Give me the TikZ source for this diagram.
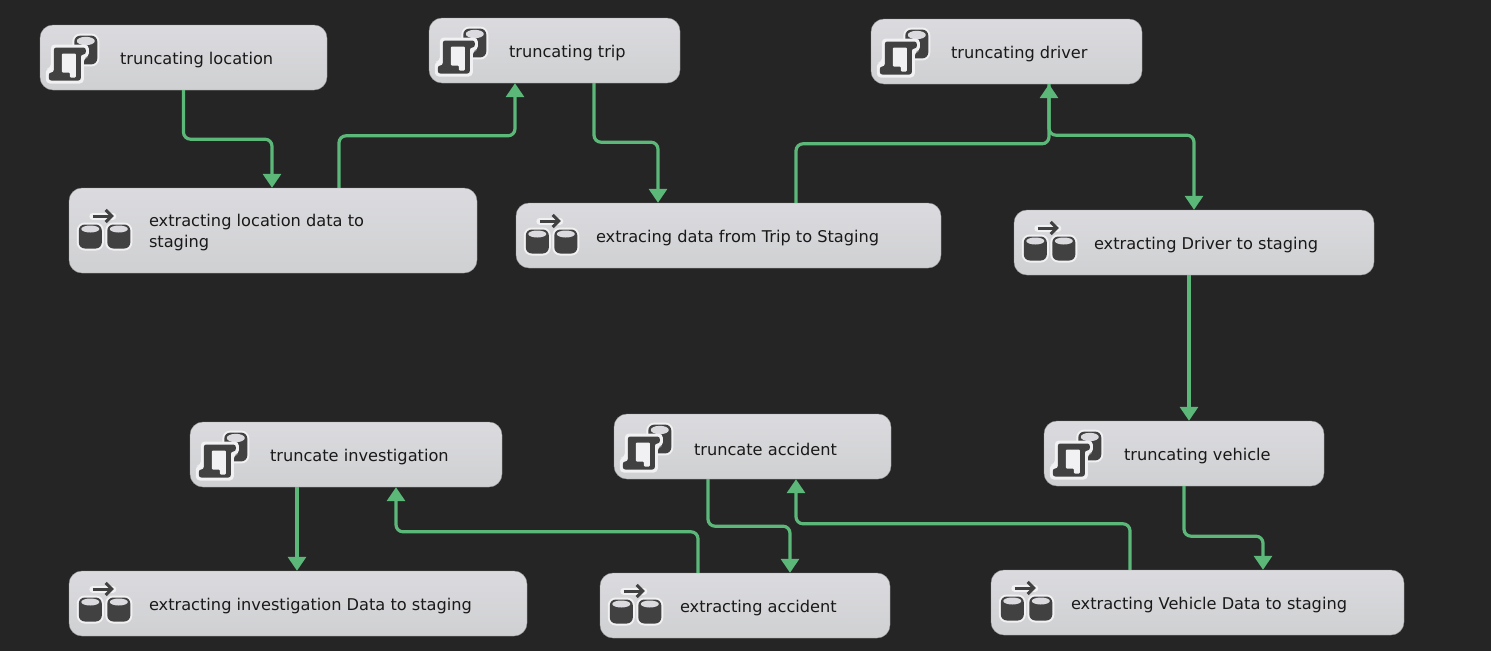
\documentclass[tikz,border=0pt]{standalone}
\usepackage{fontspec}
\setmainfont{DejaVu Sans}
\usepackage{tikz}
\usetikzlibrary{arrows.meta}
\definecolor{bgdark}{HTML}{252525}
\definecolor{boxtop}{HTML}{DBDBDF}
\definecolor{boxbot}{HTML}{CFD0D2}
\definecolor{boxedge}{HTML}{9A9A9C}
\definecolor{flowgreen}{HTML}{5CB878}
\definecolor{icondark}{HTML}{414141}
\definecolor{iconhalo}{HTML}{F1F1F3}

\tikzset{
	task/.style 2 args={draw=boxedge, line width=0.4pt, rounded corners=13pt, top color=boxtop, bottom color=boxbot, minimum width=#1, minimum height=#2, inner sep=0pt},
	lbl/.style={anchor=west, align=left, inner sep=0pt, yshift=-2.5pt, text=black!90, font=\fontsize{16.2}{21}\selectfont},
	flow/.style={draw=flowgreen, line width=3.2pt, rounded corners=7pt, -{Triangle[length=14pt,width=18pt]}},
	dbcyl/.pic={
		\draw[iconhalo, line width=4pt, fill=icondark, rounded corners=6pt] (-11.5,-12) rectangle (11.5,12);
		\fill[icondark, rounded corners=6pt] (-11.5,-12) rectangle (11.5,12);
		\fill[boxtop] (0,-7.5) ellipse (9 and 3.5);
	},
	truncicon/.pic={
		\pic[yscale=1.2] at (46,-7.5) {dbcyl};
		\fill[iconhalo, rounded corners=4pt] (6,11) -- (11,11) -- (11,-13) -- (49,-13) -- (49,0) -- (44,0) -- (44,26) -- (6,26) -- cycle;
		\fill[icondark, rounded corners=2.5pt] (14,15) -- (14,-10) -- (46,-10) -- (46,-3) -- (41,-3) -- (41,23) -- (9,23) -- (9,15) -- cycle;
		\fill[iconhalo, rounded corners=1pt] (22,-4) -- (36,-4) -- (36,20) -- (30,20) -- (30,15) -- (22,15) -- cycle;
	},
	copyicon/.pic={
		\pic at (21.5,6) {dbcyl};
		\pic at (50,6) {dbcyl};
		\draw[iconhalo, line width=7pt, line cap=round] (24,-14.5) -- (44,-14.5);
		\draw[icondark, line width=3pt, -{Straight Barb[length=6pt,width=12pt]}] (24,-14.5) -- (45,-14.5);
	},
}

\begin{document}
\begin{tikzpicture}[x=1pt, y=-1pt]
	\fill[bgdark] (0,0) rectangle (1491,651);
	\useasboundingbox (0,0) rectangle (1491,651);

	% upper row
	\node[task={287pt}{65pt}] (trloc) at (183.5,57.5) {};
	\node[task={251pt}{65pt}] (trtrip) at (554.5,50.5) {};
	\node[task={271pt}{65pt}] (trdrv) at (1006.5,51.5) {};
	\node[task={408pt}{85pt}] (exloc) at (273,230.5) {};
	\node[task={425pt}{65pt}] (extrip) at (728.5,235.5) {};
	\node[task={360pt}{65pt}] (exdrv) at (1194,242.5) {};

	% lower row
	\node[task={280pt}{65pt}] (trveh) at (1184,453.5) {};
	\node[task={277pt}{65pt}] (tracc) at (752.5,446.5) {};
	\node[task={312pt}{65pt}] (trinv) at (346,454.5) {};
	\node[task={458pt}{65pt}] (exinv) at (298,603.5) {};
	\node[task={290pt}{65pt}] (exacc) at (745,605.5) {};
	\node[task={413pt}{65pt}] (exveh) at (1197.5,602.5) {};

	\node[lbl] (trlocl) at ([xshift=80pt]trloc.west) {truncating location};
	\node[lbl] (trtripl) at ([xshift=80pt]trtrip.west) {truncating trip};
	\node[lbl] (trdrvl) at ([xshift=80pt]trdrv.west) {truncating driver};
	\node[lbl] (exlocl) at ([xshift=80pt]exloc.west) {extracting location data to\\staging};
	\node[lbl] (extripl) at ([xshift=80pt]extrip.west) {extracing data from Trip to Staging};
	\node[lbl] (exdrvl) at ([xshift=80pt]exdrv.west) {extracting Driver to staging};
	\node[lbl] (trvehl) at ([xshift=80pt]trveh.west) {truncating vehicle};
	\node[lbl] (traccl) at ([xshift=80pt]tracc.west) {truncate accident};
	\node[lbl] (trinvl) at ([xshift=80pt]trinv.west) {truncate investigation};
	\node[lbl] (exinvl) at ([xshift=80pt]exinv.west) {extracting investigation Data to staging};
	\node[lbl] (exaccl) at ([xshift=80pt]exacc.west) {extracting accident};
	\node[lbl] (exvehl) at ([xshift=80pt]exveh.west) {extracting Vehicle Data to staging};

	\foreach \n in {trloc,trtrip,trdrv,trveh,tracc,trinv}
		\pic at (\n.west) {truncicon};
	\foreach \n in {exloc,extrip,exdrv,exinv,exacc,exveh}
		\pic at (\n.west) {copyicon};

	\draw[flow] (trloc.south) -- ++(0,49) -| ([xshift=-1pt]exloc.north);
	\draw[flow] ([xshift=66pt]exloc.north) -- ++(0,-52) -| ([xshift=-39.5pt]trtrip.south);
	\draw[flow] ([xshift=39.5pt]trtrip.south) -- ++(0,59) -| ([xshift=-70.5pt]extrip.north);
	\draw[flow] ([xshift=67.5pt]extrip.north) -- ++(0,-59) -| ([xshift=42.5pt]trdrv.south);
	\draw[flow] ([xshift=42.5pt]trdrv.south) -- ++(0,51) -| (exdrv.north);
	\draw[flow] ([xshift=-5pt]exdrv.south) -- ([xshift=5pt]trveh.north);
	\draw[flow] (trveh.south) -- ++(0,50) -| ([xshift=65.5pt]exveh.north);
	\draw[flow] ([xshift=-67.5pt]exveh.north) -- ++(0,-46) -| ([xshift=43.5pt]tracc.south);
	\draw[flow] ([xshift=-44.5pt]tracc.south) -- ++(0,47) -| ([xshift=45pt]exacc.north);
	\draw[flow] ([xshift=-47pt]exacc.north) -- ++(0,-41) -| ([xshift=50pt]trinv.south);
	\draw[flow] ([xshift=-49pt]trinv.south) -- ([xshift=-1pt]exinv.north);
\end{tikzpicture}
\end{document}
